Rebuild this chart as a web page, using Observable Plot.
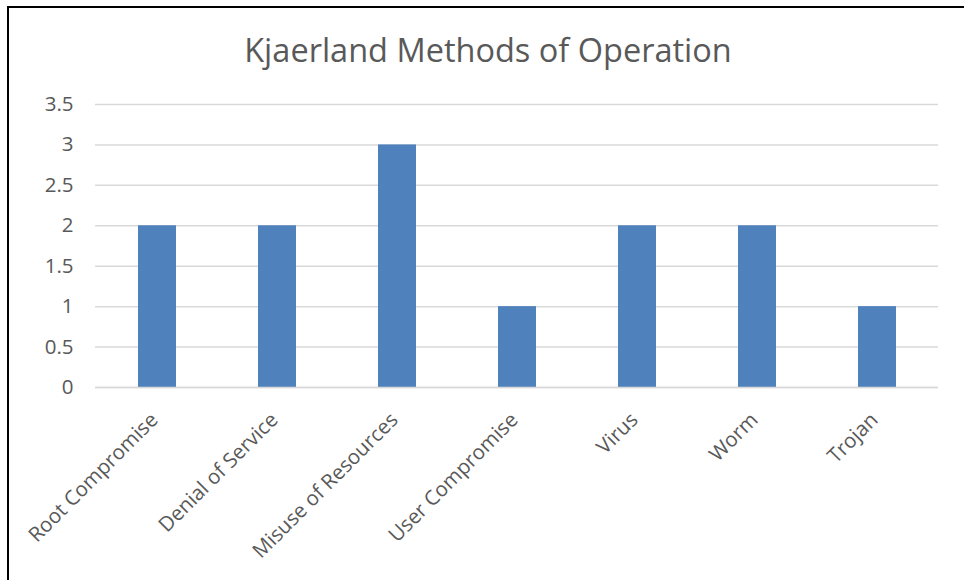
<!DOCTYPE html>
<html>
<head>
<meta charset="utf-8">
<script src="https://cdn.jsdelivr.net/npm/d3@7"></script>
<script src="https://cdn.jsdelivr.net/npm/@observablehq/plot@0.6"></script>
<style>
  html, body { margin: 0; padding: 0; background: #fff; }
  #wrap { position: relative; width: 964px; height: 580px; overflow: hidden; font-family: "Open Sans", sans-serif; }
  #border { position: absolute; left: 7px; top: 6px; width: 1000px; height: 1000px; border-left: 2px solid #000; border-top: 2px solid #000; }
  #title { position: absolute; left: 0; width: 976px; top: 28px; text-align: center; font-size: 32.5px; color: #595959; line-height: 44px; }
  #chart { position: absolute; left: 0; top: 80px; }
  #chart svg text { font-size: 20.5px; }
</style>
</head>
<body>
<div id="wrap">
  <div id="border"></div>
  <div id="title">Kjaerland Methods of Operation</div>
  <div id="chart"></div>
</div>
<script>
const categories = ["Root Compromise", "Denial of Service", "Misuse of Resources", "User Compromise", "Virus", "Worm", "Trojan"];
const values = [2, 2, 3, 1, 2, 2, 1];
const yTicks = [0, 0.5, 1, 1.5, 2, 2.5, 3, 3.5];
const yTickLabels = ["0", "0.5", "1", "1.5", "2", "2.5", "3", "3.5"];

const data = categories.map((c, i) => ({category: c, value: values[i]}));

const chart = Plot.plot({
  width: 964,
  height: 500,
  marginTop: 24,
  marginBottom: 193,
  marginLeft: 95,
  marginRight: 26,
  style: {fontFamily: "Open Sans, sans-serif", fontSize: "20.5px", color: "#595959", background: "transparent"},
  x: {domain: categories, paddingInner: 0.685, paddingOuter: 0.3425, label: null},
  y: {domain: [0, 3.5], label: null},
  marks: [
    Plot.gridY(yTicks, {stroke: "#d9d9d9", strokeOpacity: 1, strokeWidth: 1.5}),
    Plot.barY(data, {x: "category", y: "value", fill: "#4f81bd"}),
    Plot.axisY(yTicks, {tickSize: 0, tickPadding: 22, tickFormat: (d, i) => yTickLabels[i], fill: "#595959"}),
    Plot.axisX({tickSize: 0, tickPadding: 29, dx: -3, tickRotate: -45, fill: "#595959"}),
    Plot.ruleY([0], {stroke: "#d9d9d9", strokeWidth: 1.5})
  ]
});
document.getElementById("chart").appendChild(chart);
</script>
</body>
</html>
